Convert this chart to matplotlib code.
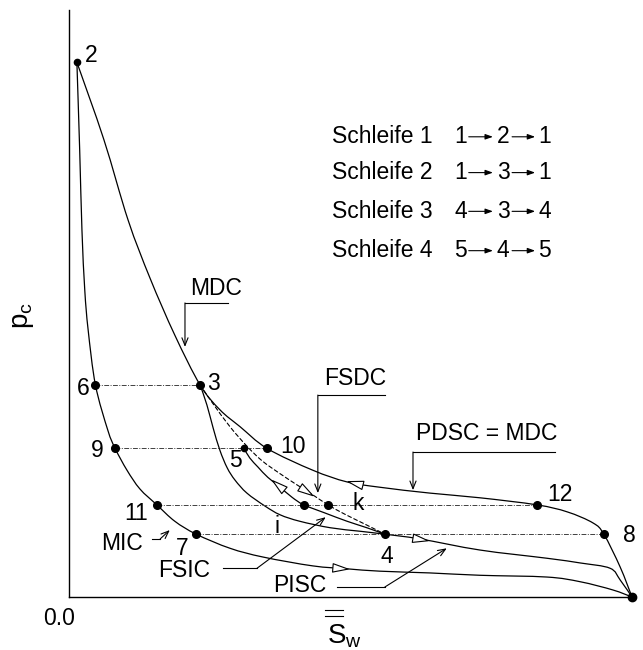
import numpy as np
import matplotlib
matplotlib.use("Agg")
import matplotlib.pyplot as plt
from matplotlib.path import Path
from matplotlib.patches import PathPatch
from matplotlib.markers import MarkerStyle
from matplotlib.transforms import Affine2D
from matplotlib.lines import Line2D

plt.rcParams["font.family"] = ["Liberation Sans", "DejaVu Sans"]

# ---- curves: normalised saturation Sw and capillary pressure pc ----
mdc_sw = [0.014, 0.062, 0.105, 0.144, 0.188, 0.233, 0.268, 0.304, 0.352, 0.433,
          0.494, 0.552, 0.641, 0.730, 0.831, 0.885, 0.931, 0.950, 0.979, 1.000]
mdc_pc = [0.911, 0.779, 0.642, 0.543, 0.446, 0.361, 0.319, 0.290, 0.253, 0.216,
          0.196, 0.187, 0.177, 0.169, 0.157, 0.145, 0.126, 0.107, 0.051, 0.000]

mic_sw = [0.014, 0.019, 0.023, 0.028, 0.034, 0.047, 0.069, 0.082, 0.103, 0.126,
          0.156, 0.188, 0.226, 0.286, 0.345, 0.433, 0.494, 0.552, 0.641, 0.730,
          0.849, 0.908, 0.966, 1.000]
mic_pc = [0.911, 0.761, 0.625, 0.523, 0.455, 0.361, 0.284, 0.253, 0.216, 0.184,
          0.157, 0.129, 0.107, 0.083, 0.068, 0.053, 0.048, 0.044, 0.041, 0.037,
          0.034, 0.026, 0.012, 0.000]

# imbibition scanning curve 3 -> 4 -> 1
isc_sw = [0.233, 0.245, 0.256, 0.268, 0.281, 0.295, 0.316, 0.348, 0.375, 0.410,
          0.464, 0.517, 0.561, 0.623, 0.730, 0.849, 0.908, 0.961, 0.979, 1.000]
isc_pc = [0.361, 0.327, 0.288, 0.250, 0.220, 0.199, 0.177, 0.155, 0.140, 0.129,
          0.118, 0.112, 0.107, 0.099, 0.080, 0.066, 0.058, 0.049, 0.029, 0.000]

# first scanning drainage curve 4 -> k -> 3 (dashed)
fsdc_sw = [0.233, 0.256, 0.286, 0.316, 0.343, 0.375, 0.405, 0.433, 0.460, 0.490,
           0.528, 0.561]
fsdc_pc = [0.361, 0.329, 0.290, 0.257, 0.232, 0.210, 0.191, 0.174, 0.157, 0.141,
           0.123, 0.107]

# scanning curve 5 -> i -> 4
fsic_sw = [0.311, 0.321, 0.336, 0.353, 0.375, 0.396, 0.417, 0.455, 0.494, 0.529,
           0.561]
fsic_pc = [0.253, 0.237, 0.221, 0.204, 0.187, 0.170, 0.157, 0.143, 0.129, 0.118,
           0.107]

# ---- marked states ----
point_names = ["2", "3", "4", "5", "6", "7", "8", "9", "10", "11", "12", "i", "k", "1"]
point_sw = [0.014, 0.233, 0.561, 0.311, 0.047, 0.226, 0.950, 0.082, 0.352, 0.156,
            0.831, 0.417, 0.460, 1.000]
point_pc = [0.911, 0.361, 0.107, 0.253, 0.361, 0.107, 0.107, 0.253, 0.253, 0.157,
            0.157, 0.157, 0.157, 0.000]
point_size = [4.5, 5.5, 5.5, 4.5, 5.5, 5.5, 5.5, 5.5, 5.5, 5.5, 5.5, 5.5, 5.5, 6.0]

label_text = ["2", "3", "6", "9", "5", "10", "11", "7", "4", "i", "k", "12", "8"]
label_sw = [0.039, 0.256, 0.025, 0.050, 0.295, 0.398, 0.119, 0.201, 0.565, 0.369,
            0.513, 0.872, 0.995]
label_pc = [0.911, 0.353, 0.344, 0.239, 0.221, 0.245, 0.131, 0.072, 0.058, 0.109,
            0.148, 0.164, 0.093]

# horizontal connectors at equal pc
level_pc = [0.361, 0.253, 0.157, 0.107]
level_from = [0.047, 0.082, 0.156, 0.226]
level_to = [0.233, 0.352, 0.831, 0.950]

# loops
loop_names = ["Schleife 1", "Schleife 2", "Schleife 3", "Schleife 4"]
loop_steps = [("1", "2", "1"), ("1", "3", "1"), ("4", "3", "4"), ("5", "4", "5")]
loop_pc = [0.773, 0.712, 0.646, 0.579]

fs = 16.5

fig = plt.figure(figsize=(6.43, 6.5), dpi=100)
ax = fig.add_axes([69 / 643, 53 / 650, 563 / 643, 587 / 650])
ax.set_xlim(0, 1)
ax.set_ylim(0, 1)
for s in ("top", "right"):
    ax.spines[s].set_visible(False)
for s in ("left", "bottom"):
    ax.spines[s].set_linewidth(1.0)
ax.set_xticks([])
ax.set_yticks([])


def smooth_curve(sw, pc, **kw):
    pts = np.column_stack([sw, pc])
    n = len(pts)
    verts = [pts[0]]
    codes = [Path.MOVETO]
    for i in range(n - 1):
        p0 = pts[max(i - 1, 0)]
        p3 = pts[min(i + 2, n - 1)]
        c1 = pts[i] + (pts[i + 1] - p0) / 6.0
        c2 = pts[i + 1] - (p3 - pts[i]) / 6.0
        verts += [c1, c2, pts[i + 1]]
        codes += [Path.CURVE4] * 3
    patch = PathPatch(Path(verts, codes), fill=False, transform=ax.transData,
                      capstyle="round", joinstyle="round", **kw)
    ax.add_patch(patch)


smooth_curve(mdc_sw, mdc_pc, lw=0.9, ec="k")
smooth_curve(mic_sw, mic_pc, lw=0.9, ec="k")
smooth_curve(isc_sw, isc_pc, lw=0.9, ec="k")
smooth_curve(fsic_sw, fsic_pc, lw=0.9, ec="k")
smooth_curve(fsdc_sw, fsdc_pc, lw=0.8, ec="k", linestyle=(0, (3.5, 2.5)))

for y, x0, x1 in zip(level_pc, level_from, level_to):
    ax.plot([x0, x1], [y, y], color="0.25", lw=0.7, ls=(0, (5, 1.5, 1, 1.5)))

ax.scatter([], [])
for sw, pc, ms in zip(point_sw, point_pc, point_size):
    ax.plot(sw, pc, "o", color="k", ms=ms, clip_on=False, zorder=5)

for t, x, y in zip(label_text, label_sw, label_pc):
    ax.text(x, y, t, fontsize=fs, ha="center", va="baseline")


# hollow direction triangles on the curves
def direction_mark(sw, pc, at, forward):
    sw = np.asarray(sw)
    pc = np.asarray(pc)
    y = np.interp(at, sw, pc)
    d = ax.transData.transform(np.column_stack([sw, pc]))
    i = int(np.argmin(np.abs(sw - at)))
    a = d[min(i + 1, len(d) - 1)] - d[max(i - 1, 0)]
    ang = np.degrees(np.arctan2(a[1], a[0])) + (0 if forward else 180)
    tri = Path([[1, 0], [-1, 0.55], [-1, -0.55], [1, 0]],
               [Path.MOVETO, Path.LINETO, Path.LINETO, Path.CLOSEPOLY])
    m = MarkerStyle(tri, transform=Affine2D().rotate_deg(ang))
    ax.plot(at, y, marker=m, ms=11, mfc="white", mec="k", mew=0.8, ls="none", zorder=4)


direction_mark(mdc_sw, mdc_pc, 0.508, False)
direction_mark(fsic_sw, fsic_pc, 0.371, False)
direction_mark(fsdc_sw, fsdc_pc, 0.421, True)
direction_mark(isc_sw, isc_pc, 0.623, True)
direction_mark(mic_sw, mic_pc, 0.481, True)

# curve names with leader lines
lead = dict(color="k", lw=0.8)
arrow = dict(arrowstyle="->,head_length=0.55,head_width=0.22", color="k", lw=0.8,
             shrinkA=0, shrinkB=0)

ax.text(0.262, 0.514, "MDC", fontsize=fs, ha="center", va="baseline")
ax.plot([0.282, 0.206], [0.501, 0.501], **lead)
ax.annotate("", xy=(0.206, 0.426), xytext=(0.206, 0.501), arrowprops=arrow)

ax.text(0.508, 0.361, "FSDC", fontsize=fs, ha="center", va="baseline")
ax.plot([0.561, 0.442], [0.344, 0.344], **lead)
ax.annotate("", xy=(0.442, 0.177), xytext=(0.442, 0.344), arrowprops=arrow)

ax.text(0.742, 0.267, "PDSC = MDC", fontsize=fs, ha="center", va="baseline")
ax.plot([0.863, 0.611], [0.247, 0.247], **lead)
ax.annotate("", xy=(0.611, 0.182), xytext=(0.611, 0.247), arrowprops=arrow)

ax.text(0.094, 0.080, "MIC", fontsize=fs, ha="center", va="baseline")
ax.plot([0.147, 0.162], [0.099, 0.099], **lead)
ax.annotate("", xy=(0.179, 0.114), xytext=(0.162, 0.099), arrowprops=arrow)

ax.text(0.204, 0.034, "FSIC", fontsize=fs, ha="center", va="baseline")
ax.plot([0.274, 0.334], [0.049, 0.049], **lead)
ax.annotate("", xy=(0.456, 0.136), xytext=(0.334, 0.049), arrowprops=arrow)

ax.text(0.409, 0.0085, "PISC", fontsize=fs, ha="center", va="baseline")
ax.plot([0.476, 0.561], [0.017, 0.017], **lead)
ax.annotate("", xy=(0.671, 0.083), xytext=(0.561, 0.017), arrowprops=arrow)

# loop table
step_x = [0.696, 0.771, 0.845]
step_arrows = [(0.710, 0.753), (0.787, 0.828)]
small_arrow = dict(arrowstyle="-|>,head_length=0.45,head_width=0.16", color="k", lw=0.8,
                   shrinkA=0, shrinkB=0)
for name, steps, y in zip(loop_names, loop_steps, loop_pc):
    ax.text(0.467, y, name, fontsize=fs, ha="left", va="baseline")
    for s, x in zip(steps, step_x):
        ax.text(x, y, s, fontsize=fs, ha="center", va="baseline")
    for x0, x1 in step_arrows:
        ax.annotate("", xy=(x1, y + 0.011), xytext=(x0, y + 0.011), arrowprops=small_arrow)

# axis labels
fig.text(23 / 643, (650 - 316) / 650, r"$\mathregular{p_c}$", rotation=90,
         fontsize=20, ha="center", va="center")
fig.text(327 / 643, (650 - 643) / 650, r"$\mathregular{S_w}$", fontsize=20,
         ha="left", va="baseline")
for yb in (610, 615.5):
    fig.add_artist(Line2D([325 / 643, 343 / 643], [(650 - yb) / 650] * 2,
                          color="k", lw=0.8))
fig.text(59 / 643, (650 - 625) / 650, "0.0", fontsize=fs, ha="center", va="baseline")

fig.savefig("out.png", dpi=100)
